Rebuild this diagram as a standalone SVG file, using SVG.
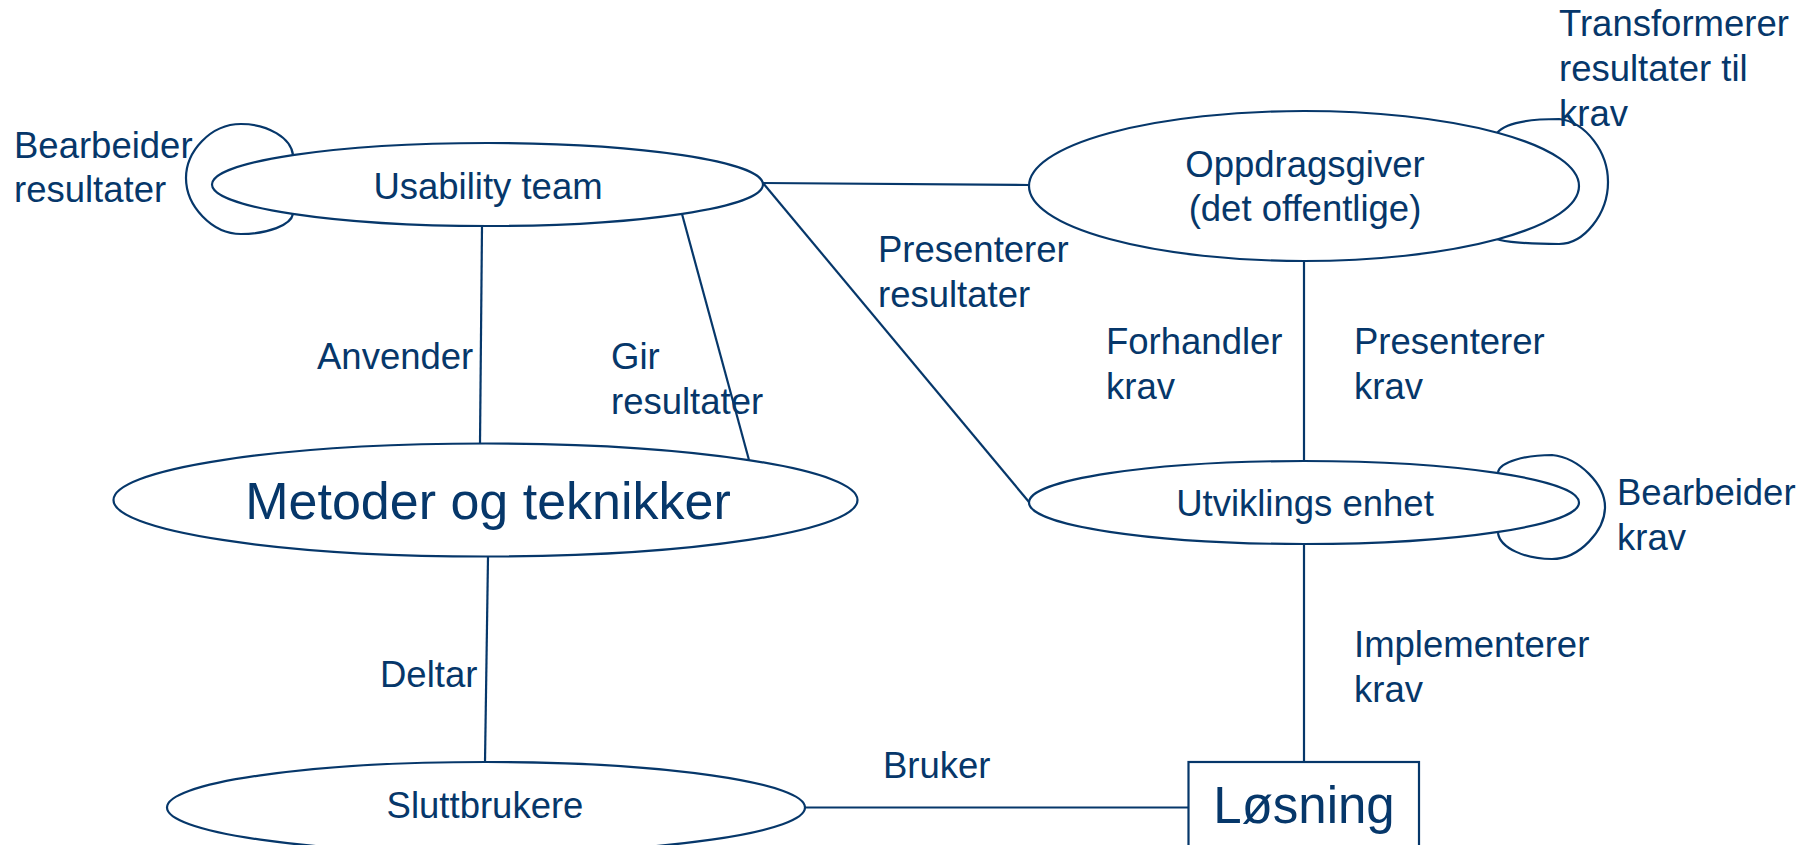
<svg xmlns="http://www.w3.org/2000/svg" width="1816" height="845" viewBox="0 0 1816 845">
<style>
.s{fill:none;stroke:#06376a;stroke-width:2.2}
.n{fill:#fff;stroke:#06376a;stroke-width:2.2}
text{font-family:"Liberation Sans",Arial,sans-serif;fill:#06376a;font-size:36.5px}
.c{text-anchor:middle}
</style>
<rect width="1816" height="845" fill="#fff"/>
<g id="connectors">
<line class="s" x1="482" y1="226" x2="480" y2="444"/>
<line class="s" x1="682" y1="214" x2="749" y2="460"/>
<line class="s" x1="763" y1="183" x2="1029" y2="185"/>
<line class="s" x1="763" y1="183" x2="1029" y2="502"/>
<line class="s" x1="488" y1="557" x2="485" y2="762"/>
<line class="s" x1="805" y1="807.5" x2="1188" y2="807.5"/>
<line class="s" x1="1304" y1="260" x2="1304" y2="461"/>
<line class="s" x1="1304" y1="544" x2="1304" y2="762"/>
<path class="s" d="M293,155 C291,138 268,124 241,124 C210,124 186,152 186,178 C186,206 212,234 241,234 C268,234 291,225 293,214"/>
<path class="s" d="M1497,133 C1505,123 1530,119 1559,119 C1586,122 1608,152 1608,182 C1608,214 1584,244 1559,244 C1530,244 1503,242 1497,239"/>
<path class="s" d="M1498,472 C1500,462 1525,455 1552,455 C1580,458 1605,485 1605,507 C1605,530 1580,559 1552,559 C1525,559 1500,548 1498,533"/>
<text x="317" y="369">Anvender</text>
<text x="611" y="369">Gir</text>
<text x="611" y="414">resultater</text>
<text x="878" y="262">Presenterer</text>
<text x="878" y="307">resultater</text>
<text x="1106" y="354">Forhandler</text>
<text x="1106" y="399">krav</text>
<text x="1354" y="354">Presenterer</text>
<text x="1354" y="399">krav</text>
<text x="380" y="687">Deltar</text>
<text x="883" y="778">Bruker</text>
<text x="1354" y="657">Implementerer</text>
<text x="1354" y="702">krav</text>
<text x="14" y="158">Bearbeider</text>
<text x="14" y="202">resultater</text>
<text x="1559" y="36">Transformerer</text>
<text x="1559" y="81">resultater til</text>
<text x="1559" y="126">krav</text>
<text x="1617" y="505">Bearbeider</text>
<text x="1617" y="550">krav</text>
</g>
<g id="usability">
<ellipse class="n" cx="487.5" cy="184.5" rx="275.5" ry="41.5"/>
<text class="c" x="488" y="199">Usability team</text>
</g>
<g id="oppdragsgiver">
<ellipse class="n" cx="1304" cy="186" rx="275" ry="75"/>
<text class="c" x="1305" y="177">Oppdragsgiver</text>
<text class="c" x="1305" y="221">(det offentlige)</text>
</g>
<g id="utvikling">
<ellipse class="n" cx="1304" cy="502.5" rx="275" ry="41.5"/>
<text class="c" x="1305" y="516">Utviklings enhet</text>
</g>
<g id="metoder">
<ellipse class="n" cx="485.5" cy="500" rx="372" ry="56.5"/>
<text class="c" x="488" y="519" style="font-size:52px">Metoder og teknikker</text>
</g>
<g id="sluttbrukere">
<ellipse class="n" cx="486" cy="807.5" rx="319" ry="45.5"/>
<text class="c" x="485" y="818">Sluttbrukere</text>
</g>
<g id="losning">
<rect class="n" x="1188.5" y="762" width="230.5" height="100"/>
<text class="c" x="1304" y="823" style="font-size:51px">Løsning</text>
</g>
</svg>
